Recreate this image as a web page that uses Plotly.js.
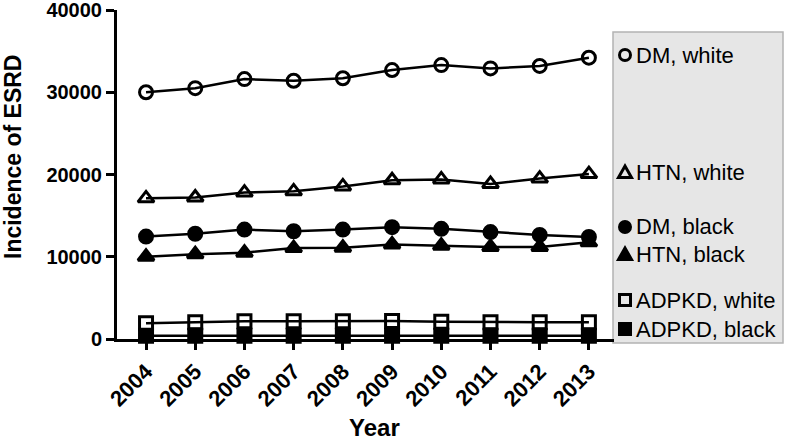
<!DOCTYPE html>
<html>
<head>
<meta charset="utf-8">
<script src="https://cdn.plot.ly/plotly-3.0.1.min.js"></script>
<style>
  html, body { margin: 0; padding: 0; background: #fff; }
  #chart { width: 785px; height: 444px; }
</style>
</head>
<body>
<div id="chart"></div>
<script>
const years = [2004, 2005, 2006, 2007, 2008, 2009, 2010, 2011, 2012, 2013];
const dmWhite = [30000, 30500, 31600, 31400, 31700, 32700, 33300, 32900, 33200, 34200];
const htnWhite = [17100, 17200, 17800, 17950, 18550, 19300, 19400, 18850, 19500, 20050];
const dmBlack = [12450, 12800, 13300, 13100, 13300, 13600, 13400, 13000, 12650, 12400];
const htnBlack = [10000, 10300, 10500, 11050, 11100, 11500, 11350, 11200, 11200, 11750];
const adpkdWhite = [1900, 2050, 2150, 2150, 2150, 2200, 2100, 2050, 2050, 2050];
const adpkdBlack = [400, 400, 400, 400, 400, 400, 400, 400, 400, 400];
const yTicks = [0, 10000, 20000, 30000, 40000];

const seriesNames = ["DM, white", "HTN, white", "DM, black", "HTN, black", "ADPKD, white", "ADPKD, black"];
const seriesValues = [dmWhite, htnWhite, dmBlack, htnBlack, adpkdWhite, adpkdBlack];
const symbols = ["circle-open", "triangle-up-open", "circle", "triangle-up", "square-open", "square"];

const fontFam = "Liberation Sans, Arial, Helvetica, sans-serif";

const traces = seriesValues.map((vals, i) => ({
  x: years,
  y: vals,
  name: seriesNames[i],
  type: "scatter",
  mode: "lines+markers",
  cliponaxis: false,
  line: { color: "#000", width: 2.5 },
  marker: {
    symbol: symbols[i],
    size: symbols[i].startsWith("triangle") ? 14 : 13,
    color: "#000",
    line: { color: "#000", width: 3 }
  }
}));

// legend box, drawn by hand so the rows sit where the original puts them
const T = 10;
const W = 497, H = 339 - T;        // plot area size in px
const px = v => (v - 117) / W;     // page px -> paper x
const py = v => (339 - v) / H;     // page px -> paper y
const legendRows = [55, 172, 227, 254, 300, 329];

const shapes = [{
  type: "rect", xref: "paper", yref: "paper",
  x0: px(613), x1: px(783), y0: py(343), y1: py(32),
  fillcolor: "#e6e6e6", line: { color: "#b3b3b3", width: 1.5 }, layer: "below"
}];

const glyph = (i, yy) => {
  const base = { xref: "paper", yref: "paper", xsizemode: "pixel", ysizemode: "pixel",
                 xanchor: px(625), yanchor: py(yy), line: { color: "#000", width: 3 } };
  const open = symbols[i].endsWith("open");
  const fill = open ? "rgba(0,0,0,0)" : "#000";
  if (symbols[i].startsWith("circle"))
    return Object.assign(base, { type: "circle", x0: -5.5, x1: 5.5, y0: -5.5, y1: 5.5, fillcolor: fill });
  if (symbols[i].startsWith("triangle"))
    return Object.assign(base, { type: "path", path: "M-6.5,-5.5 L6.5,-5.5 L0,6 Z", fillcolor: fill });
  return Object.assign(base, { type: "rect", x0: -5.5, x1: 5.5, y0: -5.5, y1: 5.5, fillcolor: fill });
};
legendRows.forEach((yy, i) => shapes.push(glyph(i, yy)));

const annotations = legendRows.map((yy, i) => ({
  xref: "paper", yref: "paper", x: px(634), y: py(yy),
  xanchor: "left", yanchor: "middle", showarrow: false,
  text: seriesNames[i],
  font: { family: fontFam, size: 22, color: "#000" }
}));

annotations.push({
  xref: "paper", yref: "paper", x: px(13), y: py(157),
  xanchor: "center", yanchor: "middle", showarrow: false, textangle: -90,
  text: "Incidence of ESRD",
  font: { family: fontFam, size: 23, weight: "bold", color: "#000" }
});
annotations.push({
  xref: "paper", yref: "paper", x: px(374), y: py(428),
  xanchor: "center", yanchor: "middle", showarrow: false,
  text: "Year",
  font: { family: fontFam, size: 24, weight: "bold", color: "#000" }
});

const layout = {
  width: 785, height: 444,
  margin: { l: 117, r: 171, t: T, b: 105 },
  paper_bgcolor: "#fff", plot_bgcolor: "#fff",
  showlegend: false,
  font: { family: fontFam, color: "#000" },
  xaxis: {
    range: [2003.41, 2013.51],
    tickvals: years,
    ticktext: years.map(String),
    tickangle: -45,
    ticks: "outside", ticklen: 8, tickwidth: 2.5, tickcolor: "#000",
    showline: true, linecolor: "#000", linewidth: 3,
    showgrid: false, zeroline: false,
    tickfont: { family: fontFam, size: 22, weight: "bold", color: "#000" },
    ticklabeloverflow: "allow"
  },
  yaxis: {
    range: [0, 40000],
    tickvals: yTicks,
    ticktext: yTicks.map(String),
    ticks: "outside", ticklen: 8, tickwidth: 2.5, tickcolor: "#000",
    showline: true, linecolor: "#000", linewidth: 3,
    showgrid: false, zeroline: false,
    tickfont: { family: fontFam, size: 20, weight: "bold", color: "#000" },
    ticklabeloverflow: "allow"
  },
  shapes: shapes,
  annotations: annotations
};

Plotly.newPlot("chart", traces, layout, { displayModeBar: false, responsive: false });
</script>
</body>
</html>
